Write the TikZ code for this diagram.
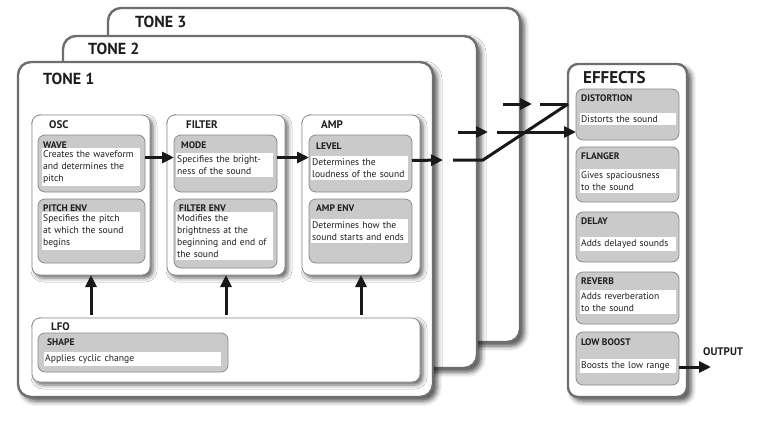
\documentclass[tikz,border=0pt]{standalone}
\usepackage{fontspec}
\setmainfont{PT Sans}
\usetikzlibrary{arrows.meta,shadows.blur,positioning}

\definecolor{framegray}{HTML}{6E6E6E}
\definecolor{boxgray}{HTML}{8A8A8A}
\definecolor{subfill}{HTML}{CACACA}
\definecolor{inkgray}{HTML}{1E1E1E}

\begin{document}
\begin{tikzpicture}[x=1pt,y=-1pt,
    tonebox/.style={draw=framegray,line width=2.4pt,fill=white,rounded corners=13pt,
      anchor=north west,inner sep=0pt,outer sep=0pt,
      blur shadow={shadow xshift=4pt,shadow yshift=-4pt,shadow blur radius=5pt,shadow opacity=70}},
    tonetitle/.style={anchor=west,inner sep=0pt,font=\bfseries\fontsize{16}{16}\selectfont,text=inkgray},
    module/.style={draw=boxgray,line width=0.8pt,fill=white,rounded corners=8pt,
      anchor=north west,inner sep=0pt,outer sep=0pt,
      blur shadow={shadow xshift=3pt,shadow yshift=-3pt,shadow blur radius=4pt,shadow opacity=60}},
    modtitle/.style={anchor=west,inner sep=0pt,font=\bfseries\fontsize{11}{12}\selectfont,text=inkgray},
    sub/.style={draw=boxgray,line width=0.8pt,fill=subfill,rounded corners=7pt,
      anchor=north west,inner sep=0pt,outer sep=0pt},
    subhead/.style={anchor=west,inner sep=0pt,font=\bfseries\fontsize{9.5}{10}\selectfont,text=inkgray},
    desc/.style={fill=white,anchor=north west,inner xsep=1pt,inner ysep=2.5pt,align=left,
      font=\fontsize{9.6}{12}\selectfont,text=inkgray},
    sig/.style={line width=3pt,draw=black!90,-{Triangle[length=12pt,width=11pt]}},
    wire/.style={line width=3pt,draw=black!90,line join=miter},
  ]
  \useasboundingbox (0,0) rectangle (783,436);

  % the three tones
  \node[tonebox,minimum width=412,minimum height=334] (tone3) at (108,8) {};
  \node[tonetitle] (tone3title) at (135,22) {TONE 3};
  \node[tonebox,minimum width=414,minimum height=332] (tone2) at (63,36) {};
  \node[tonetitle] (tone2title) at (88,49) {TONE 2};
  \node[tonebox,minimum width=415,minimum height=335] (tone1) at (18,62) {};
  \node[tonetitle] (tone1title) at (43,79) {TONE 1};

  % OSC
  \node[module,minimum width=118,minimum height=160] (osc) at (32,115) {};
  \node[modtitle] (osctitle) at (49,125) {OSC};
  \node[sub,minimum width=107,minimum height=57] (wave) at (38,135) {};
  \node[subhead] (wavehd) at (43,145) {WAVE};
  \node[desc,text width=96] (wavetx) at (42,148) {Creates the waveform\\and determines the\\pitch};
  \node[sub,minimum width=107,minimum height=64] (pitchenv) at (38,199) {};
  \node[subhead] (pitchenvhd) at (43,208) {PITCH ENV};
  \node[desc,text width=96] (pitchenvtx) at (42,212) {Specifies the pitch\\at which the sound\\begins};

  % FILTER
  \node[module,minimum width=118,minimum height=160] (filter) at (167,115) {};
  \node[modtitle] (filtertitle) at (186,125) {FILTER};
  \node[sub,minimum width=103,minimum height=57] (mode) at (174,135) {};
  \node[subhead] (modehd) at (181,145) {MODE};
  \node[desc,text width=95] (modetx) at (176,153) {Specifies the bright-\\ness of the sound};
  \node[sub,minimum width=103,minimum height=69] (filterenv) at (174,199) {};
  \node[subhead] (filterenvhd) at (179,208) {FILTER ENV};
  \node[desc,text width=95] (filterenvtx) at (176,212) {Modifies the\\brightness at the\\beginning and end of\\the sound};

  % AMP
  \node[module,minimum width=118,minimum height=160] (amp) at (302,115) {};
  \node[modtitle] (amptitle) at (321,125) {AMP};
  \node[sub,minimum width=103,minimum height=57] (level) at (309,135) {};
  \node[subhead] (levelhd) at (316,146) {LEVEL};
  \node[desc,text width=95] (leveltx) at (311,156) {Determines the\\loudness of the sound};
  \node[sub,minimum width=103,minimum height=64] (ampenv) at (309,199) {};
  \node[subhead] (ampenvhd) at (316,208) {AMP ENV};
  \node[desc,text width=95] (ampenvtx) at (311,219) {Determines how the\\sound starts and ends};

  % LFO
  \node[module,minimum width=388,minimum height=64] (lfo) at (32,318) {};
  \node[modtitle] (lfotitle) at (51,327) {LFO};
  \node[sub,minimum width=190,minimum height=39] (shape) at (38,333) {};
  \node[subhead] (shapehd) at (47,342) {SHAPE};
  \node[desc,text width=175] (shapetx) at (44,352) {Applies cyclic change};

  % EFFECTS
  \node[tonebox,rounded corners=10pt,minimum width=119,minimum height=333] (effects) at (568,64) {};
  \node[tonetitle,font=\bfseries\fontsize{17}{17}\selectfont] (effectstitle) at (583,78) {EFFECTS};
  \node[sub,minimum width=103,minimum height=51] (distortion) at (576,89) {};
  \node[subhead] (distortionhd) at (581,98) {DISTORTION};
  \node[desc,text width=94] (distortiontx) at (580,113) {Distorts the sound};
  \node[sub,minimum width=103,minimum height=55] (flanger) at (576,147) {};
  \node[subhead] (flangerhd) at (581,156) {FLANGER};
  \node[desc,text width=94] (flangertx) at (580,169) {Gives spaciousness\\to the sound};
  \node[sub,minimum width=103,minimum height=50] (delay) at (576,212) {};
  \node[subhead] (delayhd) at (581,221) {DELAY};
  \node[desc,text width=94] (delaytx) at (580,237) {Adds delayed sounds};
  \node[sub,minimum width=103,minimum height=52] (reverb) at (576,272) {};
  \node[subhead] (reverbhd) at (581,281) {REVERB};
  \node[desc,text width=94] (reverbtx) at (580,290) {Adds reverberation\\to the sound};
  \node[sub,minimum width=103,minimum height=53] (lowboost) at (576,332) {};
  \node[subhead] (lowboosthd) at (581,342) {LOW BOOST};
  \node[desc,text width=94] (lowboosttx) at (580,359) {Boosts the low range};
  \node[modtitle] (output) at (703,352) {OUTPUT};

  % signal flow
  \coordinate (t1out) at (443,160);
  \coordinate (t1c) at (453,160);
  \coordinate (t1d) at (483,160);
  \coordinate (t2a) at (458,132);
  \coordinate (t2b) at (488,132);
  \coordinate (t2c) at (497,132);
  \coordinate (t3a) at (503,104);
  \coordinate (t3b) at (532,104);
  \coordinate (t3c) at (540,104);
  \coordinate (outend) at (711,367);

  \draw[sig] ([yshift=6pt]wave.east) -- ([yshift=6pt]mode.west);
  \draw[sig] ([yshift=6pt]mode.east) -- ([yshift=6pt]level.west);
  \draw[sig] ([yshift=3pt]level.east) -- (t1out);
  \draw[sig,shorten <=3pt] (lfo.north -| osc.south) -- (osc.south);
  \draw[sig,shorten <=3pt] (lfo.north -| filter.south) -- (filter.south);
  \draw[sig,shorten <=3pt] (lfo.north -| amp.south) -- (amp.south);

  \draw[sig] (t3a) -- (t3b);
  \draw[sig] (t2a) -- (t2b);
  \draw[wire] (t3c) -- (effects.west |- t3c);
  \draw[wire] (t1c) -- (t1d) -- (effects.west |- t3c);
  \draw[sig] (t2c) -- (distortion.west |- t2c);
  \draw[sig] (lowboost.east |- outend) -- (outend);
\end{tikzpicture}
\end{document}
